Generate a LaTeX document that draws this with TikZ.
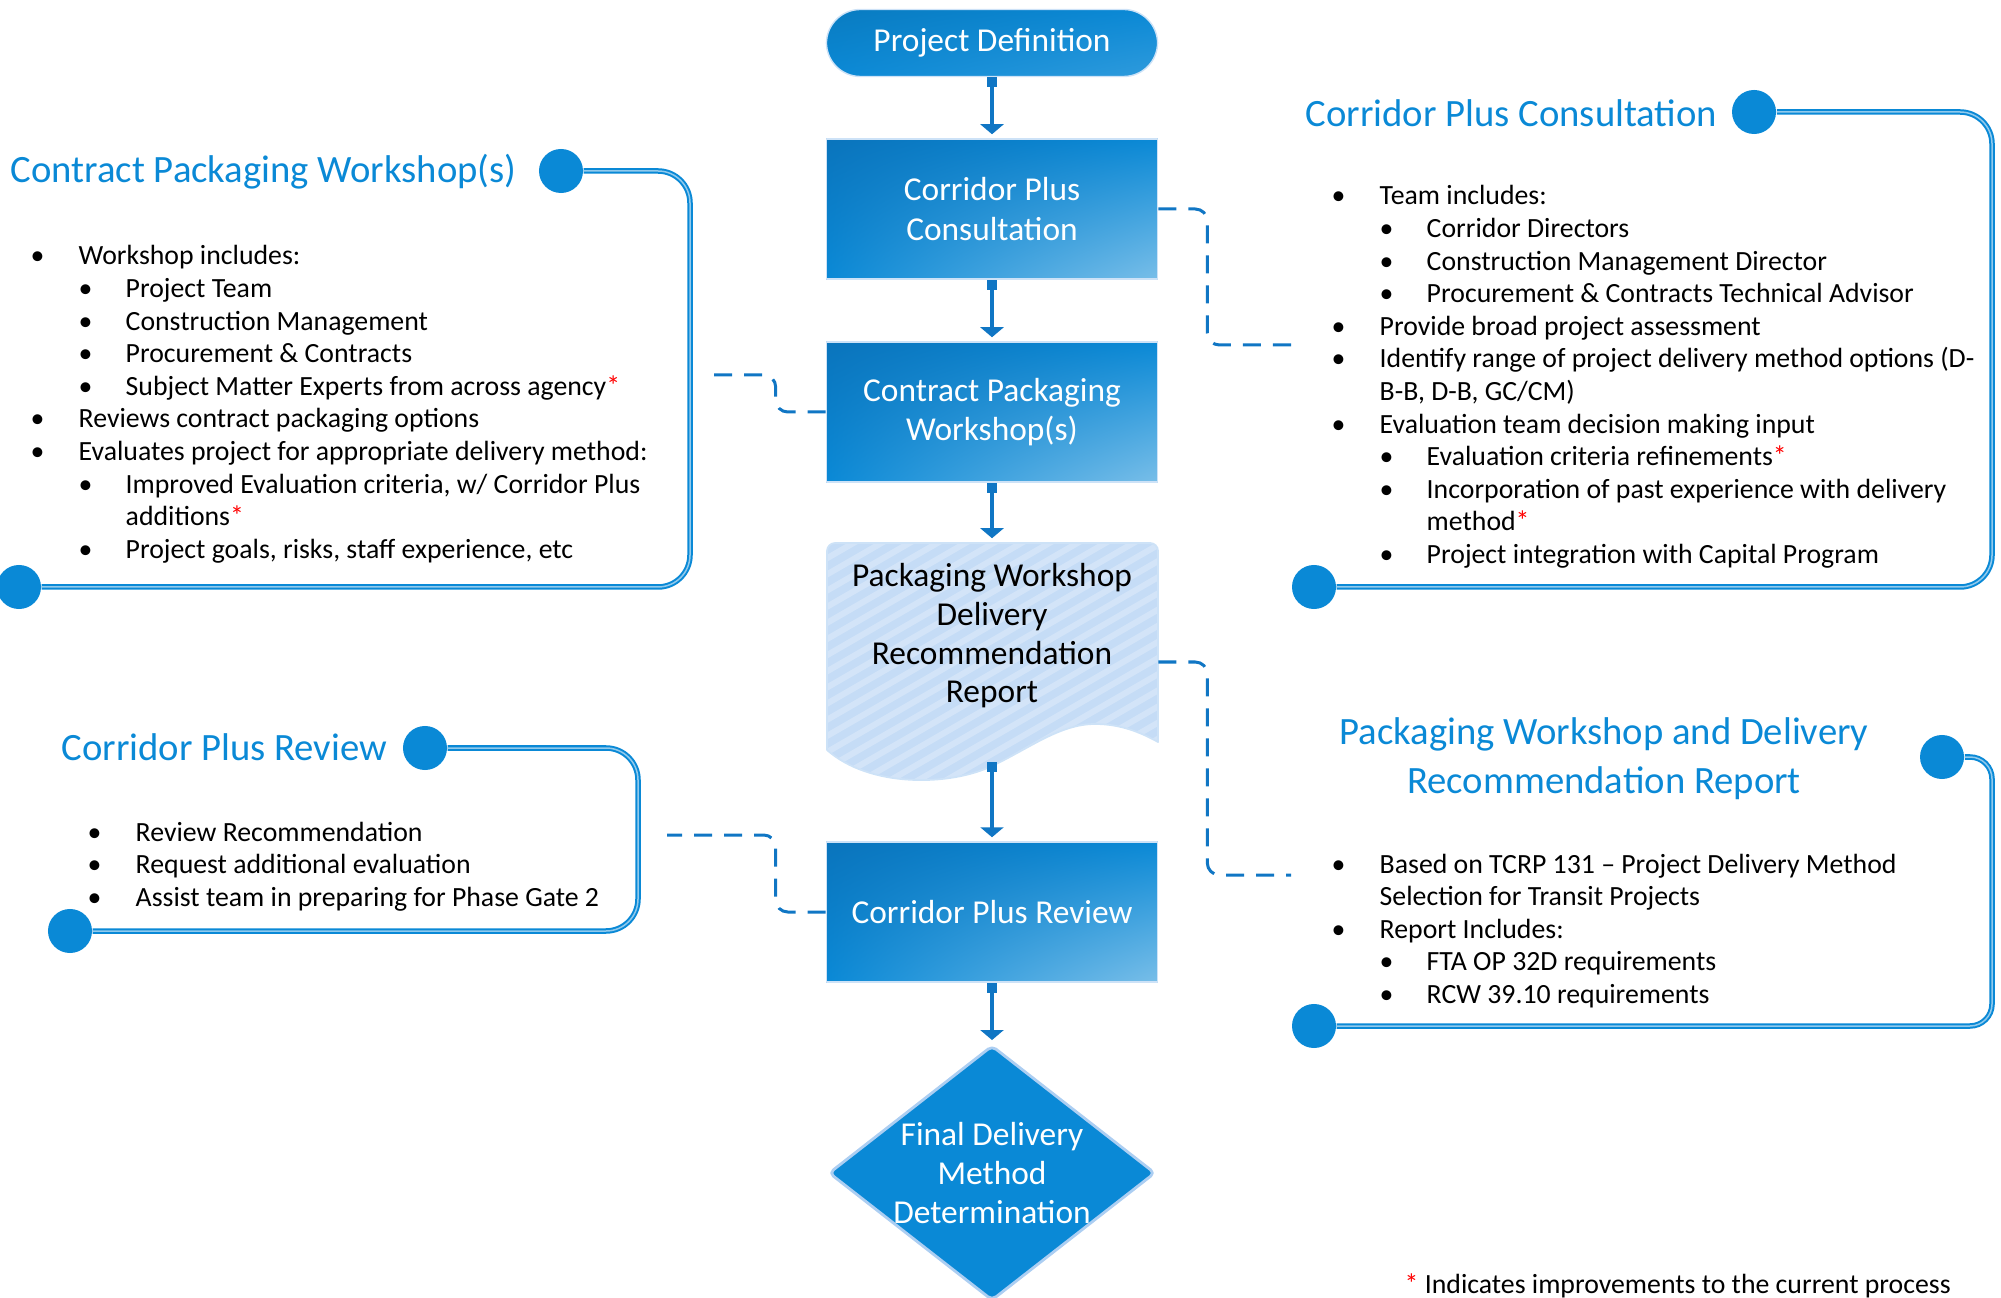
\documentclass[tikz,border=0pt]{standalone}
\usepackage{fontspec}
\setmainfont{Carlito}
\usetikzlibrary{arrows.meta,positioning,shapes.geometric,shadings}

\definecolor{cpBlue}{RGB}{10,137,214}
\definecolor{cpDark}{RGB}{10,116,188}
\definecolor{cpPale}{RGB}{172,206,242}
\definecolor{cpDoc}{RGB}{197,220,246}
\definecolor{cpLine}{RGB}{16,118,196}

\newcommand{\imp}{\textcolor{red}{*}}
% bullet list: x of bullet, y of first line, name, items (level/text)
\newcommand{\itemlist}[4]{%
  \foreach \lv/\txt [count=\n from 0] in {#4}{
    \pgfmathsetmacro{\yy}{#2+\n*32.6+10}
    \ifcase\lv
      \node[itm] (#3-\n) at (#1-6,\yy) {\makebox[0.48cm][l]{\textbullet}\txt};
    \or
      \node[itm] (#3-\n) at (#1+42,\yy) {\makebox[0.47cm][l]{\textbullet}\txt};
    \or
      \node[itm] (#3-\n) at (#1+42,\yy) {\txt};
    \or
      \node[itm] (#3-\n) at (#1+89,\yy) {\txt};
    \fi}}

\tikzset{
  box/.style={rectangle, minimum width=3.31cm, minimum height=1.40cm, align=center, text=white,
    draw=cpPale!60!white, line width=0.4pt, shade, upper left=cpDark, upper right=cpBlue,
    lower left=cpBlue, lower right=cpBlue!55!white, font=\fontsize{9.5}{11.2}\selectfont},
  flow/.style={cpLine, line width=0.04cm, {Square[length=0.1cm,width=0.1cm]}-{Triangle[length=0.1cm,width=0.23cm]}, shorten >=0.04cm},
  dashln/.style={cpLine, line width=0.03cm, dash pattern=on 0.18cm off 0.12cm, rounded corners=0.12cm},
  panelln/.style={cpBlue, line width=0.02cm, double=cpBlue!45!white, double distance=0.015cm, rounded corners=0.32cm},
  dot/.style={circle, fill=cpBlue, minimum size=0.44cm, inner sep=0},
  ptitle/.style={text=cpBlue, font=\fontsize{11}{14}\selectfont, inner sep=0, align=center},
  itm/.style={anchor=base west, inner sep=0, font=\fontsize{7.9}{9.3}\selectfont},
}

\newcommand{\repshape}{(827,750) [rounded corners=0.08cm] -- (827,543) -- (1158,543) [sharp corners] -- (1158,742)
  .. controls (1140,732) and (1120,724) .. (1095,724) .. controls (1060,724) and (1030,748) .. (992,766)
  .. controls (950,786) and (870,788) .. (827,750) -- cycle}

\begin{document}
\begin{tikzpicture}[x=0.01cm, y=-0.01cm, line join=round]
\useasboundingbox (0,0) rectangle (2001,1298);

% flow boxes
\node[box, rounded corners=0.34cm, minimum height=0.67cm, upper left=cpBlue!90!black, lower right=cpBlue!85!white] (pdef) at (992,43) {Project Definition};
\node[box] (cpc) at (992,209) {Corridor Plus\\Consultation};
\node[box] (wsh) at (992,412) {Contract Packaging\\Workshop(s)};

% report (document shape)
\node[minimum width=3.31cm, minimum height=2.38cm, inner sep=0] (rep) at (992,662) {};
\fill[cpDoc] \repshape;
\begin{scope}
  \clip \repshape;
  \foreach \s in {380,408,...,1180}
    \draw[white, opacity=0.25, line width=0.06cm] (\s,800) -- ++(520,-300);
\end{scope}
\draw[cpPale!60!white, line width=0.5pt] \repshape;
\node[align=center, font=\fontsize{9.5}{11}\selectfont] (reptxt) at (992,636) {Packaging Workshop\\Delivery\\Recommendation\\Report};

\node[box] (rev) at (992,912) {Corridor Plus Review};
\node[diamond, aspect=1.28, minimum width=3.2cm, minimum height=2.5cm, inner sep=0, fill=cpBlue,
  draw=cpPale, line width=0.8pt, rounded corners=0.05cm, text=white, align=center,
  font=\fontsize{9.5}{11}\selectfont] (fin) at (992,1173) {Final Delivery\\Method\\Determination};

\draw[flow] (pdef.south) -- (cpc.north);
\draw[flow] (cpc.south) -- (wsh.north);
\draw[flow] (wsh.south) -- (rep.north);
\draw[flow] ([yshift=0.2cm]rep.south) -- (rev.north);
\draw[flow] (rev.south) -- (fin.north);

% dashed links to the notes
\coordinate (e1) at (1291,345);
\coordinate (e2) at (712,375);
\coordinate (e3) at (1291,875);
\coordinate (e4) at (667,835);
\draw[dashln] (cpc.east) -- ++(49,0) |- (e1);
\draw[dashln] (wsh.west) -- ++(-50,0) |- (e2);
\draw[dashln] (rep.east) -- ++(49,0) |- (e3);
\draw[dashln] (rev.west) -- ++(-50,0) |- (e4);

% Contract Packaging Workshop(s)
\node[ptitle, anchor=west] (tA) at (10,172) {Contract Packaging Workshop(s)};
\node[dot] (dA1) at (561,171) {};
\node[dot] (dA2) at (19,587) {};
\draw[panelln] (dA1.east) -- (690,171) -- (690,587) -- (dA2.east);
\itemlist{36}{255}{lA}{0/Workshop includes:, 1/Project Team, 1/Construction Management,
  1/Procurement \& Contracts, 1/Subject Matter Experts from across agency\imp,
  0/Reviews contract packaging options, 0/Evaluates project for appropriate delivery method:,
  1/{Improved Evaluation criteria, w/ Corridor Plus}, 3/additions\imp,
  1/{Project goals, risks, staff experience, etc}}

% Corridor Plus Consultation
\node[ptitle, anchor=west] (tB) at (1305,113) {Corridor Plus Consultation};
\node[dot] (dB1) at (1754,112) {};
\node[dot] (dB2) at (1314,587) {};
\draw[panelln] (dB1.east) -- (1992,112) -- (1992,587) -- (dB2.east);
\itemlist{1337}{195}{lB}{0/Team includes:, 1/Corridor Directors, 1/Construction Management Director,
  1/Procurement \& Contracts Technical Advisor, 0/Provide broad project assessment,
  0/Identify range of project delivery method options (D-, 2/{B-B, D-B, GC/CM)},
  0/Evaluation team decision making input, 1/Evaluation criteria refinements\imp,
  1/Incorporation of past experience with delivery, 3/method\imp,
  1/Project integration with Capital Program}

% Packaging Workshop and Delivery Recommendation Report
\node[ptitle] (tC) at (1604,759) {Packaging Workshop and Delivery\\Recommendation Report};
\node[dot] (dC1) at (1942,757) {};
\node[dot] (dC2) at (1314,1026) {};
\draw[panelln, rounded corners=0.22cm] (dC1.east) -- (1992,757) -- (1992,1026) -- (dC2.east);
\itemlist{1337}{863}{lC}{0/Based on TCRP 131 -- Project Delivery Method, 2/Selection for Transit Projects,
  0/Report Includes:, 1/FTA OP 32D requirements, 1/RCW 39.10 requirements}

% Corridor Plus Review
\node[ptitle, anchor=west] (tD) at (61,747) {Corridor Plus Review};
\node[dot] (dD1) at (425,748) {};
\node[dot] (dD2) at (70,931) {};
\draw[panelln] (dD1.east) -- (638,748) -- (638,931) -- (dD2.east);
\itemlist{93}{831}{lD}{0/Review Recommendation, 0/Request additional evaluation,
  0/Assist team in preparing for Phase Gate 2}

\node[itm] (note) at (1404,1293) {\imp\ Indicates improvements to the current process};
\end{tikzpicture}
\end{document}
